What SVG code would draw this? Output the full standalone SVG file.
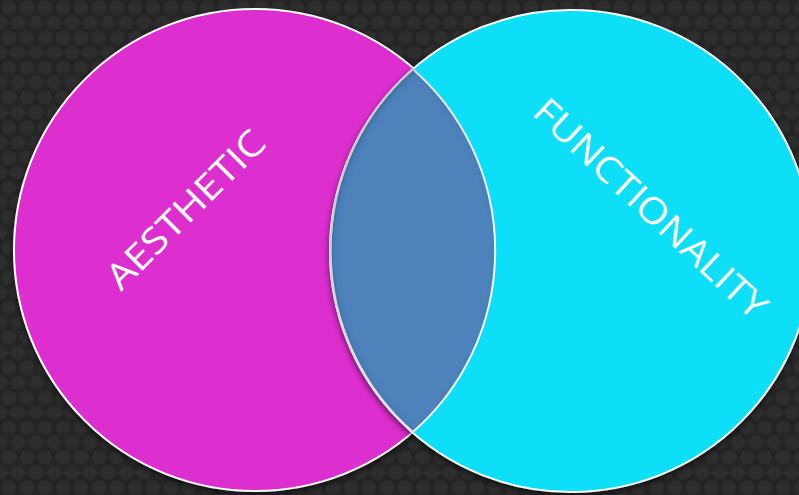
<svg xmlns="http://www.w3.org/2000/svg" width="799" height="495" viewBox="0 0 799 495">
  <defs>
    <pattern id="hex" width="18" height="30" patternUnits="userSpaceOnUse">
      <rect width="18" height="30" fill="#252525"/>
      <g fill="#2f2f2f" filter="url(#soft)">
        <polygon points="5,1 13,1 17,7.5 13,14 5,14 1,7.5"/>
        <polygon points="14,16 22,16 26,22.5 22,29 14,29 10,22.5"/>
        <polygon points="-4,16 4,16 8,22.5 4,29 -4,29 -8,22.5"/>
      </g>
    </pattern>
    <filter id="soft" x="-20%" y="-20%" width="140%" height="140%">
      <feGaussianBlur stdDeviation="1.2"/>
    </filter>
    <filter id="shadow" x="-10%" y="-10%" width="120%" height="125%">
      <feDropShadow dx="0" dy="3" stdDeviation="3" flood-color="#000" flood-opacity="0.6"/>
    </filter>
    <filter id="inner" x="-10%" y="-10%" width="120%" height="120%">
      <feOffset dx="2" dy="2" in="SourceAlpha" result="off"/>
      <feGaussianBlur in="off" stdDeviation="3" result="blur"/>
      <feComposite in="SourceAlpha" in2="blur" operator="out" result="inv"/>
      <feFlood flood-color="#1c3050" flood-opacity="0.6"/>
      <feComposite in2="inv" operator="in" result="sh"/>
      <feMerge><feMergeNode in="SourceGraphic"/><feMergeNode in="sh"/></feMerge>
    </filter>
    <style>
      .circle { stroke: #ffffff; stroke-width: 2; }
      .label { font-family: "Open Sans", "Liberation Sans", sans-serif; font-size: 36px; fill: #ffffff; text-anchor: middle; }
    </style>
  </defs>
  <rect width="799" height="495" fill="url(#hex)"/>
  <g id="aesthetic">
    <circle class="circle" cx="255" cy="250" r="241" fill="#dd2ecf" filter="url(#shadow)"/>
    <text class="label" transform="translate(186,210) rotate(-45)" y="12" textLength="208" lengthAdjust="spacingAndGlyphs">AESTHETIC</text>
  </g>
  <g id="functionality">
    <circle class="circle" cx="571" cy="251" r="241" fill="#08dff9" filter="url(#shadow)"/>
    <text class="label" transform="translate(650,209) rotate(43)" y="12" textLength="304" lengthAdjust="spacingAndGlyphs">FUNCTIONALITY</text>
  </g>
  <g id="overlap">
    <path class="circle" d="M412.9,69.3 A241,241 0 0 0 412.9,432.0 A241,241 0 0 0 412.9,69.3 Z" fill="#4e82bb" filter="url(#inner)"/>
  </g>
</svg>
